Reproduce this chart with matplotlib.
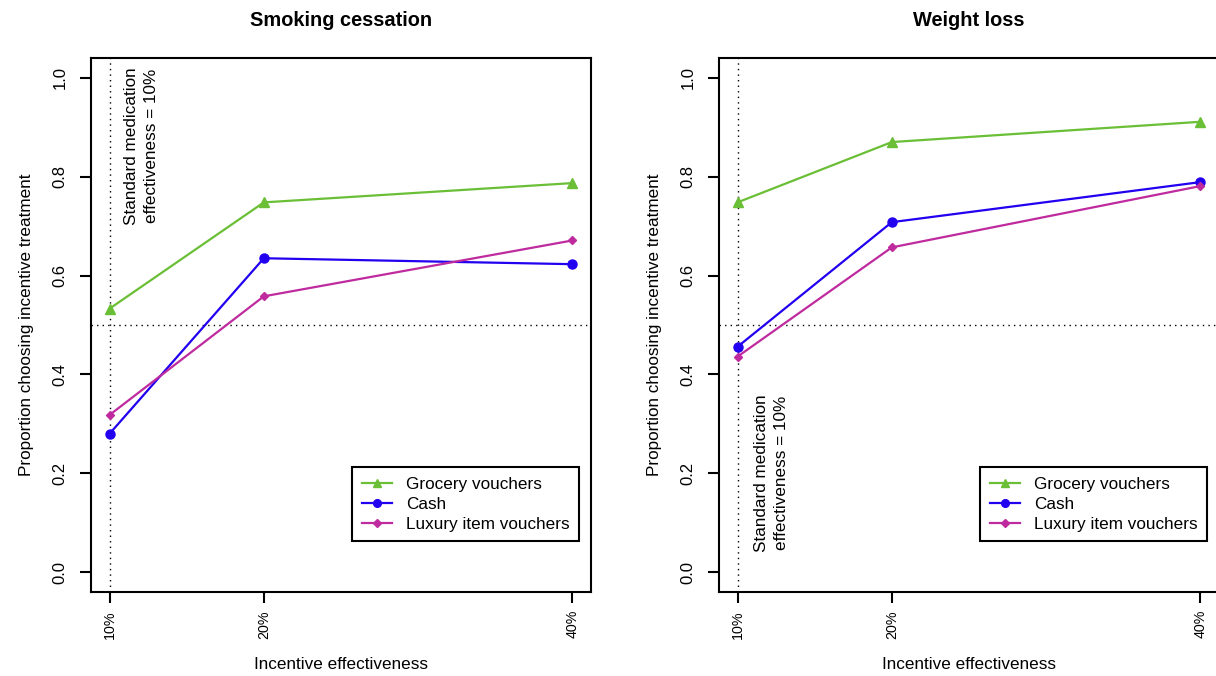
import matplotlib
matplotlib.use("Agg")
import matplotlib.pyplot as plt

plt.rcParams['font.family'] = ['Liberation Sans', 'DejaVu Sans']

x_vals = [10, 20, 40]
x_labels = ["10%", "20%", "40%"]
y_ticks = [0.0, 0.2, 0.4, 0.6, 0.8, 1.0]

panels = ["Smoking cessation", "Weight loss"]
series_names = ["Grocery vouchers", "Cash", "Luxury item vouchers"]

smoking_grocery = [0.533, 0.748, 0.787]
smoking_cash = [0.280, 0.635, 0.623]
smoking_luxury = [0.318, 0.558, 0.671]

weight_grocery = [0.748, 0.870, 0.911]
weight_cash = [0.456, 0.708, 0.789]
weight_luxury = [0.436, 0.657, 0.781]

data = {
    "Smoking cessation": [smoking_grocery, smoking_cash, smoking_luxury],
    "Weight loss": [weight_grocery, weight_cash, weight_luxury],
}

colors = ["#6ABF36", "#2200F0", "#BF2A9E"]
markers = ["^", "o", "D"]
msizes = [7, 6.5, 4.5]

note_pos = {"Smoking cessation": (12.07, 0.862), "Weight loss": (12.2, 0.20)}

FS = 12.3
W, H = 1216, 676
fig = plt.figure(figsize=(W / 100, H / 100), dpi=100)

lefts = [91, 719]
for panel, lx in zip(panels, lefts):
    ax = fig.add_axes([lx / W, (H - 592) / H, 500 / W, 534 / H])
    ax.set_xlim(8.8, 41.2)
    ax.set_ylim(-0.04, 1.04)
    ax.axvline(10, color="black", linestyle=(0, (1, 3)), lw=1)
    ax.axhline(0.5, color="black", linestyle=(0, (1, 3)), lw=1)
    for vals, name, c, m, ms in zip(data[panel], series_names, colors, markers, msizes):
        ax.plot(x_vals, vals, color=c, marker=m, markersize=ms, lw=1.6, label=name)
    ax.set_xticks(x_vals)
    ax.set_xticklabels(x_labels, rotation=90, fontsize=10.3)
    ax.set_yticks(y_ticks)
    ax.set_yticklabels([f"{v:.1f}" for v in y_ticks], rotation=90, va="center", fontsize=12)
    ax.tick_params(axis="both", length=8, width=1.5, direction="out")
    ax.tick_params(axis="x", pad=5)
    ax.tick_params(axis="y", pad=9)
    for s in ax.spines.values():
        s.set_linewidth(1.5)
    ax.set_title(panel, fontsize=14.4, fontweight="bold", pad=23)
    ax.set_xlabel("Incentive effectiveness", fontsize=FS, labelpad=13)
    ax.set_ylabel("Proportion choosing incentive treatment", fontsize=FS, labelpad=13)
    nx, ny = note_pos[panel]
    ax.text(nx, ny, "Standard medication\neffectiveness = 10%", rotation=90,
            ha="center", va="center", fontsize=FS, multialignment="center",
            linespacing=1.35)
    leg = ax.legend(loc="lower right", bbox_to_anchor=(0.976, 0.095), borderaxespad=0,
                    fancybox=False, edgecolor="black", fontsize=FS, handlelength=1.8,
                    handletextpad=0.8, labelspacing=0.3, borderpad=0.55, framealpha=1,
                    markerscale=0.85)
    leg.get_frame().set_linewidth(1.5)

fig.savefig("out.png", dpi=100)
